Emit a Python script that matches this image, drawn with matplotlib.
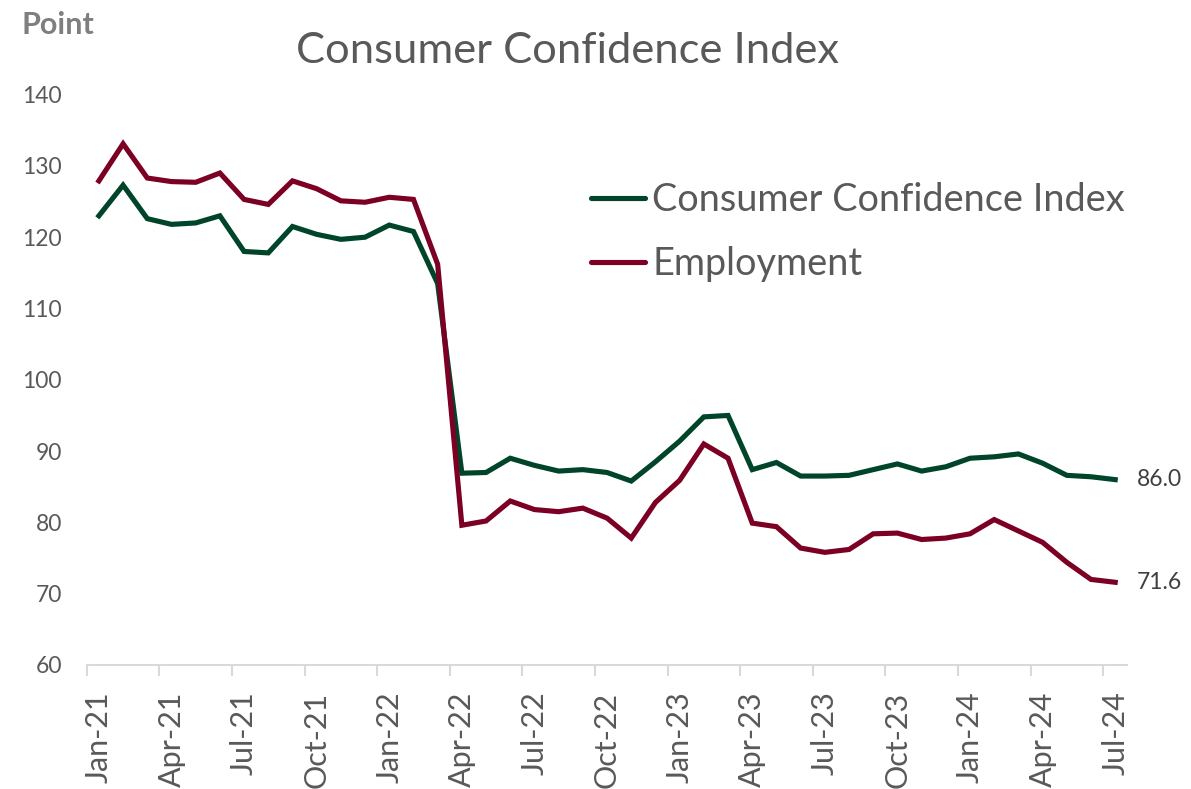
import numpy as np
import pandas as pd
import matplotlib
matplotlib.use("Agg")
import matplotlib.pyplot as plt

plt.rcParams['font.family'] = ['Lato', 'DejaVu Sans']

# monthly categories Jan-21 .. Jul-24
months = pd.date_range("2021-01-01", periods=43, freq="MS")
month_labels = [d.strftime("%b-%y") for d in months]

cci = [123.0, 127.3, 122.6, 121.8, 122.0, 123.0, 118.0, 117.8, 121.5, 120.4,
       119.7, 120.0, 121.7, 120.8, 113.5, 86.9, 87.0, 89.0, 88.0, 87.2,
       87.4, 87.0, 85.8, 88.5, 91.4, 94.8, 95.0, 87.4, 88.4, 86.5,
       86.5, 86.6, 87.4, 88.2, 87.2, 87.8, 89.0, 89.2, 89.6, 88.3,
       86.6, 86.4, 86.0]

employment = [127.9, 133.1, 128.3, 127.8, 127.7, 129.0, 125.3, 124.6, 127.9, 126.8,
              125.1, 124.9, 125.6, 125.3, 116.2, 79.6, 80.2, 83.0, 81.8, 81.5,
              82.0, 80.6, 77.8, 82.8, 85.9, 91.0, 89.0, 79.9, 79.4, 76.4,
              75.8, 76.2, 78.4, 78.5, 77.6, 77.8, 78.4, 80.4, 78.8, 77.2,
              74.4, 72.0, 71.6]

GREEN = '#00452A'
RED = '#7B0023'
TXT = '#595959'

W, H = 1191, 789
fig = plt.figure(figsize=(W / 100, H / 100), dpi=100)
ax = fig.add_axes([86.8 / W, 1 - 665 / H, (1127.3 - 86.8) / W, (665 - 94.6) / H])

x = np.arange(len(months))
ax.plot(x, cci, color=GREEN, lw=3.7, solid_joinstyle='miter', label='Consumer Confidence Index')
ax.plot(x, employment, color=RED, lw=3.7, solid_joinstyle='miter', label='Employment')

ax.set_xlim(-0.5, len(months) - 0.5)
ax.set_ylim(60, 140)
ax.set_yticks(np.arange(60, 141, 10))
ax.tick_params(axis='y', length=0, pad=18, labelsize=16.5, labelcolor=TXT)

# tick marks between categories, labels on every third month
ax.set_xticks(np.arange(-0.5, len(months) - 1, 3))
ax.set_xticklabels([])
ax.set_xticks(np.arange(0, len(months), 3), minor=True)
ax.set_xticklabels(month_labels[::3], minor=True, rotation=90, fontsize=22, color=TXT)
ax.tick_params(axis='x', which='major', length=8, width=1.5, color='#D9D9D9')
ax.tick_params(axis='x', which='minor', length=0, pad=19)

for s in ['left', 'right', 'top']:
    ax.spines[s].set_visible(False)
ax.spines['bottom'].set_color('#D9D9D9')
ax.spines['bottom'].set_linewidth(1.5)

# end labels
ax.text(x[-1] + 0.9, cci[-1], f"{cci[-1]:.1f}", va='center', ha='left', fontsize=16.5, color='#404040')
ax.text(x[-1] + 0.9, employment[-1], f"{employment[-1]:.1f}", va='center', ha='left', fontsize=16.5, color='#404040')

leg = ax.legend(loc='upper left', bbox_to_anchor=(591 / W, 1 - 182 / H),
                bbox_transform=fig.transFigure, frameon=False, fontsize=27.3,
                handlelength=1.42, handletextpad=0.2, labelspacing=0.74,
                borderpad=0, borderaxespad=0)
for t in leg.get_texts():
    t.set_color(TXT)
for ln in leg.get_lines():
    ln.set_solid_capstyle('round')

fig.text(568 / W, 1 - 51 / H, "Consumer Confidence Index", ha='center', va='center',
         fontsize=31.3, color=TXT)
fig.text(22 / W, 1 - 25 / H, "Point", ha='left', va='center', fontsize=22,
         fontweight='bold', color='#7F7F7F')

fig.savefig("out.png", dpi=100)
